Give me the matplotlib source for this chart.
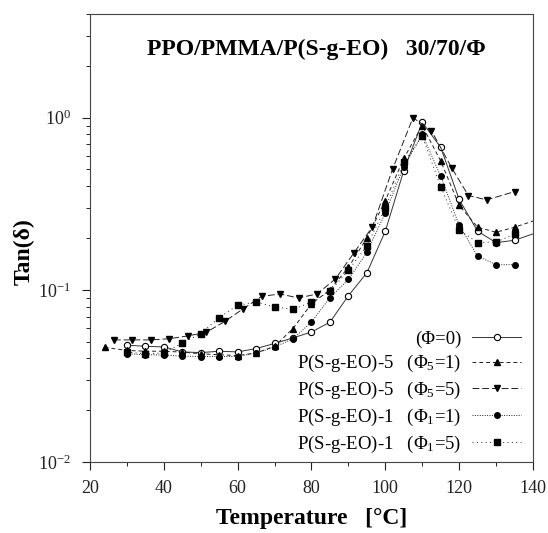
import numpy as np
import matplotlib
matplotlib.use("Agg")
import matplotlib.pyplot as plt
from matplotlib.ticker import LogLocator, MultipleLocator

plt.rcParams['font.family'] = ['Liberation Serif', 'DejaVu Serif']
plt.rcParams['mathtext.fontset'] = 'custom'
plt.rcParams['mathtext.rm'] = 'Liberation Serif'
plt.rcParams['mathtext.it'] = 'Liberation Serif:italic'
plt.rcParams['mathtext.bf'] = 'Liberation Serif:bold'

# (Phi=0), open circles
t_a = [30, 35, 40, 45, 50, 55, 60, 65, 70, 75, 80, 85, 90, 95, 100, 105, 110, 115, 120, 125, 130, 135, 141]
y_a = [0.0477, 0.047, 0.0466, 0.0436, 0.0432, 0.044, 0.0436, 0.0456, 0.0488, 0.0526, 0.0569, 0.0649,
       0.0925, 0.1256, 0.219, 0.493, 0.94, 0.673, 0.335, 0.219, 0.188, 0.194, 0.215]

# P(S-g-EO)-5 (Phi5=1), up triangles
t_b = [24, 30, 35, 40, 45, 50, 55, 60, 65, 70, 75, 80, 85, 90, 95, 100, 105, 110, 115, 120, 125, 130, 135, 141]
y_b = [0.0463, 0.0445, 0.044, 0.044, 0.0435, 0.0425, 0.042, 0.0415, 0.043, 0.047, 0.0596, 0.083, 0.100,
       0.135, 0.20, 0.33, 0.58, 0.90, 0.56, 0.31, 0.231, 0.216, 0.231, 0.255]

# P(S-g-EO)-5 (Phi5=5), down triangles
t_c = [26.5, 31.5, 36.5, 41.5, 46.5, 51.5, 56.5, 61.5, 66.5, 71.5, 76.5, 81.5, 86.5, 91.5, 96.5,
       102, 107.5, 112.5, 118, 122.5, 127.5, 135]
y_c = [0.0512, 0.0512, 0.0512, 0.052, 0.054, 0.0567, 0.0655, 0.0776, 0.0917, 0.0946, 0.0897, 0.0946,
       0.1158, 0.164, 0.232, 0.505, 1.0, 0.84, 0.51, 0.353, 0.333, 0.372]

# P(S-g-EO)-1 (Phi1=1), filled circles
t_d = [30, 35, 40, 45, 50, 55, 60, 65, 70, 75, 80, 85, 90, 95, 100, 105, 110, 115, 120, 125, 130, 135]
y_d = [0.0425, 0.042, 0.0418, 0.0412, 0.041, 0.041, 0.041, 0.043, 0.0465, 0.052, 0.065, 0.090,
       0.115, 0.165, 0.28, 0.52, 0.80, 0.457, 0.237, 0.157, 0.140, 0.140]

# P(S-g-EO)-1 (Phi1=5), filled squares
t_e = [30, 35, 40, 45, 50, 55, 60, 65, 70, 75, 80, 85, 90, 95, 100, 105, 110, 115, 120, 125, 130, 135]
y_e = [0.0435, 0.0425, 0.043, 0.049, 0.0557, 0.069, 0.0813, 0.085, 0.0795, 0.077, 0.085, 0.098,
       0.13, 0.18, 0.30, 0.55, 0.78, 0.398, 0.223, 0.188, 0.19, 0.21]

labels = ['(\u03a6=0)',
          'P(S-g-EO)-5   ($\\mathrm{\\Phi}_5$=1)',
          'P(S-g-EO)-5   ($\\mathrm{\\Phi}_5$=5)',
          'P(S-g-EO)-1   ($\\mathrm{\\Phi}_1$=1)',
          'P(S-g-EO)-1   ($\\mathrm{\\Phi}_1$=5)']

fig = plt.figure(figsize=(5.48, 5.33), dpi=100)
ax = fig.add_axes([0.1642, 0.1332, 0.8084, 0.8405])

lw = 0.7
ax.plot(t_a, y_a, '-', color='#333333', lw=lw, marker='o', ms=4.5, mfc='white', mec='black', mew=0.8, label=labels[0])
ax.plot(t_b, y_b, color='#222222', lw=lw, ls=(0, (4, 3)), marker='^', ms=4.5, mfc='black', mec='black', label=labels[1])
ax.plot(t_c, y_c, color='#222222', lw=lw, ls=(0, (7, 3)), marker='v', ms=4.5, mfc='black', mec='black', label=labels[2])
ax.plot(t_d, y_d, color='#222222', lw=lw, ls=(0, (1, 1.5)), marker='o', ms=4, mfc='black', mec='black', label=labels[3])
ax.plot(t_e, y_e, color='#222222', lw=lw, ls=(0, (1, 3.5)), marker='s', ms=4, mfc='black', mec='black', label=labels[4])

ax.set_yscale('log')
ax.set_xlim(20, 140)
ax.set_ylim(0.01, 4.0)
ax.xaxis.set_major_locator(MultipleLocator(20))
ax.xaxis.set_minor_locator(MultipleLocator(10))
ax.yaxis.set_major_locator(LogLocator(base=10, numticks=10))
ax.yaxis.set_minor_locator(LogLocator(base=10, subs=np.arange(2, 10), numticks=20))
ax.yaxis.set_minor_formatter(plt.NullFormatter())

ax.tick_params(axis='both', which='major', direction='out', length=6, width=0.8, labelsize=13, colors='#222222')
ax.tick_params(axis='x', which='major', pad=7)
ax.tick_params(axis='y', which='major', pad=8)
ax.tick_params(axis='both', which='minor', direction='out', length=3, width=0.6)
for s in ax.spines.values():
    s.set_color('#444444')
    s.set_linewidth(0.8)

ax.text(0.51, 0.922, 'PPO/PMMA/P(S-g-EO)   30/70/\u03a6', transform=ax.transAxes,
        ha='center', va='center', fontsize=17, fontweight='bold')

ax.set_xlabel('Temperature   [\u00b0C]', fontsize=17, fontweight='bold', labelpad=8)
ax.set_ylabel('Tan(\u03b4)', fontsize=17, fontweight='bold')
ax.yaxis.set_label_coords(-0.125, 0.47)

leg = ax.legend(loc='lower right', markerfirst=False, frameon=False, fontsize=13.5,
                handlelength=2.6, handletextpad=0.6, labelspacing=0.3,
                borderaxespad=0.0, bbox_to_anchor=(0.99, 0.0))

fig.savefig('out.png', dpi=100)
